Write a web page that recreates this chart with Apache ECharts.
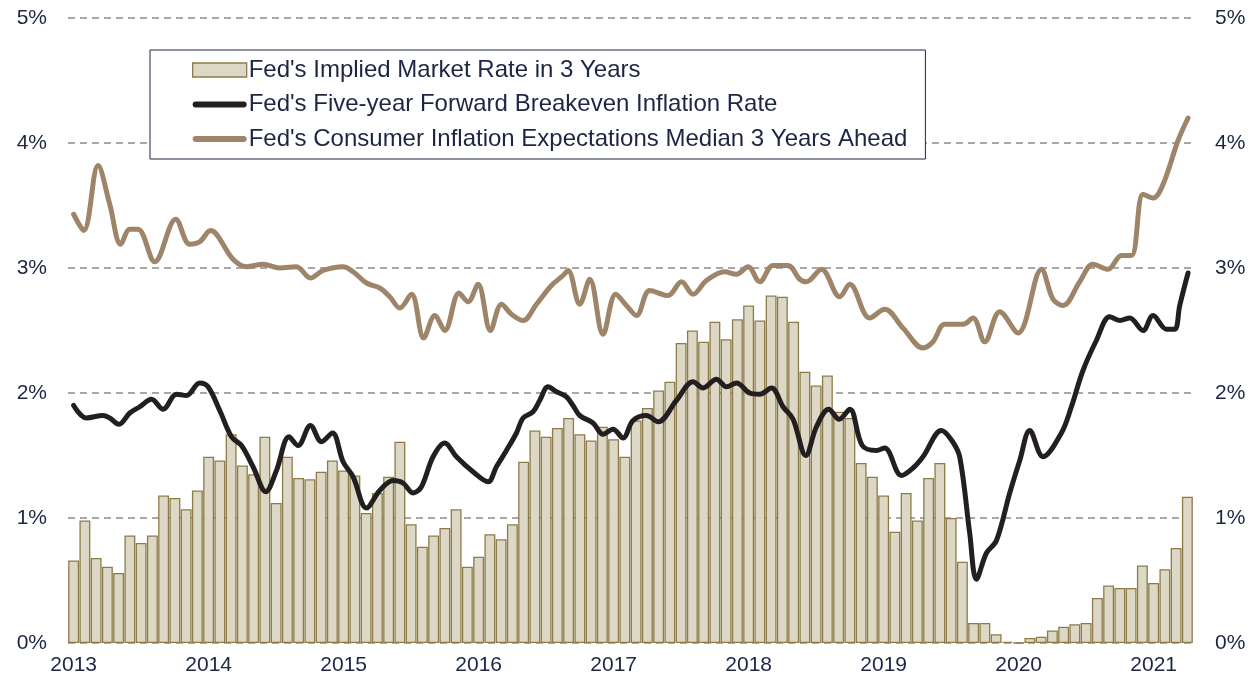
<!DOCTYPE html>
<html>
<head>
<meta charset="utf-8">
<script src="https://cdn.jsdelivr.net/npm/echarts@6/dist/echarts.min.js"></script>
<style>
html,body{margin:0;padding:0;background:#fff;}
#chart{width:1253px;height:684px;}
</style>
</head>
<body>
<div id="chart"></div>
<script>
// Monthly categories Jan 2013 .. Apr 2021
var startYear = 2013;
var months = [];
for (var i = 0; i < 100; i++) {
  var y = startYear + Math.floor(i / 12);
  var m = (i % 12) + 1;
  months.push(y + '-' + (m < 10 ? '0' + m : m));
}

var yTickLabels = ['0%', '1%', '2%', '3%', '4%', '5%'];

// Fed's Implied Market Rate in 3 Years (monthly, %)
var impliedRate = [
  0.66,0.98,0.68,0.61,0.56,0.86,0.80,0.86,1.18,1.16,1.07,1.22,
  1.49,1.46,1.67,1.42,1.35,1.65,1.12,1.49,1.32,1.31,1.37,1.46,
  1.38,1.34,1.04,1.20,1.33,1.61,0.95,0.77,0.86,0.92,1.07,0.61,
  0.69,0.87,0.83,0.95,1.45,1.70,1.65,1.72,1.80,1.67,1.62,1.73,
  1.63,1.49,1.78,1.88,2.02,2.09,2.40,2.50,2.41,2.57,2.43,2.59,
  2.70,2.58,2.78,2.77,2.57,2.17,2.06,2.14,1.85,1.80,1.44,1.33,
  1.18,0.89,1.20,0.98,1.32,1.44,1.00,0.65,0.16,0.16,0.07,0.01,
  0.00,0.04,0.05,0.10,0.13,0.15,0.16,0.36,0.46,0.44,0.44,0.62,
  0.48,0.59,0.76,1.17
];

// Fed's Five-year Forward Breakeven Inflation Rate: [months since Jan 2013, %]
var breakeven = [
  [0.0,1.90],[1.14,1.80],[2.61,1.82],[3.21,1.80],[4.04,1.75],[4.99,1.84],[5.88,1.89],
  [6.92,1.95],[7.95,1.87],[9.14,1.99],[10.03,1.98],[11.21,2.08],[11.95,2.05],[12.99,1.86],
  [14.03,1.65],[14.92,1.58],[15.95,1.41],[17.08,1.21],[18.03,1.38],[19.15,1.65],[19.95,1.58],
  [21.05,1.74],[22.03,1.61],[23.0,1.68],[23.95,1.45],[24.84,1.33],[26.03,1.08],[27.21,1.22],
  [28.39,1.30],[29.28,1.28],[30.17,1.20],[30.92,1.25],[31.95,1.49],[32.99,1.60],[34.03,1.49],
  [35.5,1.37],[36.84,1.29],[37.58,1.41],[38.47,1.54],[39.36,1.68],[39.95,1.80],[40.84,1.85],
  [41.43,1.94],[42.17,2.05],[42.92,2.01],[43.8,1.97],[44.39,1.90],[44.99,1.82],[46.17,1.76],
  [47.06,1.67],[47.95,1.71],[48.84,1.64],[49.72,1.78],[50.92,1.82],[51.95,1.77],[53.58,1.94],
  [55.06,2.09],[55.95,2.04],[57.14,2.11],[58.03,2.05],[58.92,2.08],[60.1,2.00],[60.99,1.99],
  [62.03,2.04],[63.06,1.89],[63.95,1.79],[65.08,1.50],[66.03,1.73],[67.12,1.87],[68.05,1.79],
  [68.99,1.87],[70.1,1.58],[71.36,1.54],[72.1,1.56],[73.58,1.34],[74.61,1.40],[75.5,1.49],
  [77.14,1.70],[78.06,1.62],[78.76,1.49],[79.65,0.88],[80.25,0.51],[81.14,0.72],[82.03,0.82],
  [83.21,1.20],[84.1,1.46],[84.99,1.70],[86.17,1.49],[87.8,1.68],[88.69,1.89],[89.72,2.18],
  [90.91,2.42],[92.1,2.61],[92.99,2.58],[93.88,2.60],[95.06,2.50],[95.95,2.62],[97.14,2.51],
  [97.88,2.51],[98.32,2.70],[99.06,2.96]
];

// Fed's Consumer Inflation Expectations Median 3 Years Ahead: [months since Jan 2013, %]
var consumerExp = [
  [0.0,3.43],[0.9,3.30],[2.17,3.82],[3.21,3.51],[4.19,3.19],[4.99,3.31],[5.72,3.31],
  [7.21,3.05],[9.08,3.39],[10.32,3.19],[11.21,3.21],[12.16,3.30],[14.17,3.07],[15.36,3.01],
  [16.84,3.03],[18.32,3.00],[19.8,3.01],[21.05,2.92],[22.17,2.98],[23.95,3.01],[24.84,2.97],
  [26.03,2.88],[27.21,2.84],[28.1,2.77],[28.99,2.68],[30.03,2.79],[31.12,2.44],[32.1,2.62],
  [32.99,2.50],[34.26,2.80],[35.06,2.73],[35.95,2.87],[37.05,2.50],[38.03,2.71],[38.92,2.63],
  [39.95,2.58],[41.14,2.71],[42.47,2.86],[43.5,2.94],[43.95,2.98],[44.99,2.71],[45.88,2.91],
  [47.06,2.47],[48.19,2.79],[49.14,2.70],[50.03,2.62],[51.21,2.82],[52.84,2.78],[54.03,2.89],
  [55.06,2.79],[56.25,2.90],[57.88,2.97],[58.92,2.95],[59.95,3.01],[60.99,2.89],[62.17,3.02],
  [63.5,3.02],[64.54,2.91],[65.14,2.89],[66.47,2.99],[68.1,2.77],[68.99,2.87],[70.76,2.60],
  [72.1,2.67],[73.72,2.52],[75.5,2.36],[76.39,2.41],[77.43,2.55],[79.06,2.55],[79.95,2.60],
  [80.99,2.41],[82.32,2.65],[83.95,2.48],[86.03,2.99],[87.06,2.75],[87.95,2.70],[89.43,2.89],
  [90.61,3.03],[91.95,2.99],[93.14,3.10],[94.03,3.10],[95.06,3.59],[95.95,3.56],[96.84,3.67],
  [98.17,4.02],[99.06,4.20]
];

var seriesNames = [
  "Fed's Implied Market Rate in 3 Years",
  "Fed's Five-year Forward Breakeven Inflation Rate",
  "Fed's Consumer Inflation Expectations Median 3 Years Ahead"
];

var textColor = '#1c2543';
var fontFamily = '"Liberation Sans", Arial, sans-serif';
var barFill = '#ddd7c6';
var barBorder = '#8c7b48';
var blackLine = '#231f20';
var tanLine = '#9e8569';

// capsule-shaped legend icon for the lines, with invisible bounding points so it keeps 6px height
var lineIcon = 'path://M0,0 M3,4 L51,4 A3,3 0 0 1 51,10 L3,10 A3,3 0 0 1 3,4 Z M54,14';

var chart = echarts.init(document.getElementById('chart'), null, {renderer: 'canvas'});
chart.setOption({
  animation: false,
  backgroundColor: '#ffffff',
  grid: {left: 68, right: 60, top: 18, bottom: 41, containLabel: false},
  legend: {
    orient: 'vertical',
    left: 150,
    top: 50,
    padding: [8, 18, 8, 42],
    itemGap: 10.5,
    itemWidth: 54,
    itemHeight: 14,
    borderColor: '#1c2543',
    borderWidth: 1,
    backgroundColor: '#ffffff',
    textStyle: {color: textColor, fontSize: 24, fontFamily: fontFamily, lineHeight: 24, padding: [0, 0, 0, -3]},
    data: [
      {name: seriesNames[0], icon: 'rect', itemStyle: {color: barFill, borderColor: barBorder, borderWidth: 1.3}},
      {name: seriesNames[1], icon: lineIcon, itemStyle: {color: blackLine, borderWidth: 0}, lineStyle: {width: 0}},
      {name: seriesNames[2], icon: lineIcon, itemStyle: {color: tanLine, borderWidth: 0}, lineStyle: {width: 0}}
    ]
  },
  xAxis: [
    {
      type: 'category',
      data: months,
      boundaryGap: true,
      axisLine: {show: false},
      axisTick: {show: false},
      splitLine: {show: false},
      axisLabel: {
        interval: 11,
        color: textColor,
        fontSize: 21,
        fontFamily: fontFamily,
        margin: 12,
        formatter: function (v) { return v.slice(0, 4); }
      }
    },
    {
      type: 'value',
      min: -0.5,
      max: 99.5,
      show: false,
      position: 'bottom'
    }
  ],
  yAxis: [
    {
      type: 'value',
      min: 0,
      max: 5,
      interval: 1,
      axisLine: {show: false},
      axisTick: {show: false},
      axisLabel: {
        color: textColor, fontSize: 21, fontFamily: fontFamily, margin: 21,
        formatter: function (v) { return yTickLabels[Math.round(v)]; }
      },
      splitLine: {show: true, lineStyle: {color: '#8c8c8c', type: [7, 5], width: 1.5}}
    },
    {
      type: 'value',
      min: 0,
      max: 5,
      interval: 1,
      position: 'right',
      axisLine: {show: false},
      axisTick: {show: false},
      axisLabel: {
        color: textColor, fontSize: 21, fontFamily: fontFamily, margin: 22,
        formatter: function (v) { return yTickLabels[Math.round(v)]; }
      },
      splitLine: {show: false}
    }
  ],
  series: [
    {
      name: seriesNames[0],
      type: 'bar',
      xAxisIndex: 0,
      yAxisIndex: 0,
      data: impliedRate,
      barCategoryGap: '3%',
      itemStyle: {color: barFill, borderColor: barBorder, borderWidth: 1.3},
      z: 1
    },
    {
      name: seriesNames[2],
      type: 'line',
      xAxisIndex: 1,
      yAxisIndex: 0,
      data: consumerExp,
      smooth: 0.35,
      symbol: 'none',
      lineStyle: {color: tanLine, width: 5, cap: 'round', join: 'round'},
      itemStyle: {color: tanLine},
      z: 3
    },
    {
      name: seriesNames[1],
      type: 'line',
      xAxisIndex: 1,
      yAxisIndex: 0,
      data: breakeven,
      smooth: 0.35,
      symbol: 'none',
      lineStyle: {color: blackLine, width: 5, cap: 'round', join: 'round'},
      itemStyle: {color: blackLine},
      z: 4
    }
  ]
});
</script>
</body>
</html>
